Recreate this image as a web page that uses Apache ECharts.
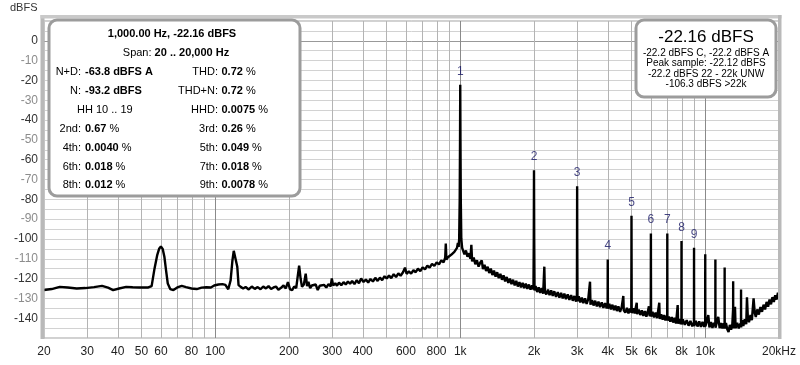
<!DOCTYPE html>
<html><head><meta charset="utf-8">
<script src="https://cdn.jsdelivr.net/npm/echarts@6/dist/echarts.min.js"></script>
<style>html,body{margin:0;padding:0;background:#fff}#c{width:800px;height:365px}</style>
</head><body><div id="c"></div>
<script>
// ---------------- DATA ----------------
const xGridHz = [30,40,50,60,70,80,90,200,300,400,500,600,700,800,900,2000,3000,4000,5000,6000,7000,8000,9000];
const xDecadeHz = [100,1000,10000];
const xLabelHz = [20,30,40,50,60,80,100,200,300,400,600,800,1000,2000,3000,4000,5000,6000,8000,10000,20000];
const xLabelText = ['20','30','40','50','60','80','100','200','300','400','600','800','1k','2k','3k','4k','5k','6k','8k','10k','20kHz'];
const yLabelValues = [0,-10,-20,-30,-40,-50,-60,-70,-80,-90,-100,-110,-120,-130,-140];

// spectrum, [Hz, dBFS]
const spectrumHum = [[20,-125.8],[21.5,-125.3],[23.2,-124.2],[25,-124.5],[27.2,-125],[29.5,-124.8],[32,-124.3],[34.5,-123.7],[36.5,-124.6],[38.3,-125.8],[40.5,-125],[43.3,-124.2],[46,-124.4],[49,-124.5],[53.3,-124.5],[55,-123.8],[56.5,-115],[58,-108],[59,-105],[60,-103.8],[61,-105],[62,-109],[63,-116],[64,-122.5],[65.5,-125.3],[67.5,-125.8],[70,-124.5],[73,-123.7],[76,-124.3],[80,-125],[84,-125.3],[88,-124.6],[92,-124.4],[96,-124.5],[99,-123.5],[103,-123],[107,-122.8],[110,-123.2],[113,-125.4],[115.5,-121],[117.5,-111],[119,-106],[120,-105.5],[121,-106.5],[123,-114],[124.5,-123.3],[127,-124.2],[130,-125],[133,-124.3],[137,-125.5],[141,-124],[145,-125.2],[149,-124.3],[153,-125.4],[157,-124],[161,-125],[165,-123.8],[169,-125.3],[173,-124.5],[177,-124],[181,-125.6],[185,-124.8],[190,-123.5],[194,-125],[198,-121.8],[202,-125.5],[206,-125.8],[210,-124],[214,-124.8],[217,-119],[220,-113.5],[223,-120],[226,-124.2],[230,-123],[234,-117.5],[237,-123.8]];
const spectrumRise = [[240,-121.6],[244,-124.8],[248,-123.5],[252,-124.5],[257,-123],[262,-125.8],[267,-123.6],[272,-124.6],[278,-123.2],[284,-124.5],[290,-122.8],[296,-123.9],[299,-119.9],[303,-123.5],[309,-122.4],[314,-123.6],[320,-122],[327,-123.4],[334,-121.8],[341,-123],[348,-121.5],[355,-122.6],[362,-121.2],[370,-122.8],[378,-120.8],[386,-122.4],[394,-120],[403,-121.7],[412,-120.5],[421,-122],[430,-120.2],[440,-121.5],[450,-119.6],[460,-121.2],[470,-119.5],[480,-120.8],[491,-118.8],[501,-120],[512,-118.5],[523,-119.8],[535,-117.8],[547,-119.2],[559,-117.4],[571,-118.6],[584,-116.8],[595,-114.5],[604,-117.6],[617,-116.4],[630,-117.5],[644,-115.8],[658,-116.8],[672,-115],[687,-116.2],[702,-114.3],[718,-115.4],[734,-113.5],[750,-114.5],[767,-112.6],[784,-113.6],[801,-111.8],[819,-112.8],[837,-110.8],[855,-111.8],[868,-109.5],[873,-102.3],[878,-110.5],[891,-109.2],[905,-110],[918,-108],[932,-108.8],[946,-106.5],[958,-107.2],[970,-104.5],[978,-102],[985,-104],[990,-100],[995,-80],[998,-50],[1000,-22.2],[1002,-50],[1005,-80],[1010,-100],[1018,-104.5]];
const spectrumDecay = [[1026,-104.5],[1040,-107.8],[1055,-105.8],[1070,-109],[1085,-107.2],[1100,-110],[1110,-103],[1118,-111.3],[1135,-109.4],[1152,-112.8],[1170,-110.8],[1188,-114],[1206,-112],[1224,-110.8],[1238,-115.2],[1256,-113],[1275,-116.2],[1294,-114],[1313,-117.2],[1333,-115],[1353,-118.2],[1373,-116],[1394,-119],[1415,-116.8],[1436,-119.8],[1458,-117.6],[1480,-120.6],[1502,-118.4],[1525,-121.4],[1548,-119.2],[1571,-122.2],[1595,-120],[1619,-122.8],[1643,-120.6],[1668,-123.4],[1693,-121.2],[1718,-124],[1744,-121.8],[1770,-124.4],[1797,-122.2],[1824,-124.8],[1851,-122.6],[1879,-125.2],[1907,-123],[1936,-125.6],[1965,-123.4],[1990,-125.4],[1996,-100],[2000,-65.3],[2004,-100],[2010,-126],
[2030,-123.8],[2060,-126.8],[2090,-124.4],[2120,-127.2],[2150,-124.8],[2180,-127.6],[2204,-114],[2215,-126.6],[2245,-128],[2280,-125.6],[2315,-128.4],[2350,-126],[2385,-128.8],[2420,-126.4],[2460,-129.2],[2500,-126.8],[2540,-129.6],[2580,-127.2],[2620,-130],[2660,-127.6],[2700,-130.4],[2745,-128],[2790,-130.8],[2835,-128.4],[2880,-131.2],[2925,-128.8],[2970,-131.6],[2993,-129.8],[2997,-100],[3000,-73.4],[3003,-100],[3010,-131.4],
[3045,-129],[3090,-132],[3135,-129.6],[3180,-132.4],[3230,-130],[3280,-132.8],[3330,-130.4],[3386,-121.6],[3400,-133.2],[3450,-130.8],[3500,-133.6],[3555,-131.2],[3610,-134],[3665,-131.6],[3720,-134.4],[3780,-132],[3840,-134.8],[3900,-132.4],[3960,-135],[3995,-133],[3998,-120],[4000,-110.4],[4002,-120],[4006,-135.2]];
const spectrumHigh = [[4060,-132.8],[4120,-135.6],[4180,-133.2],[4240,-136],[4300,-133.6],[4360,-136.4],[4420,-134],[4490,-136.8],[4560,-134.4],[4630,-128.8],[4650,-136],[4720,-137.2],[4790,-134.8],[4860,-137.6],[4930,-135.2],[4990,-137],[4997,-110],[5000,-88.3],[5003,-110],[5010,-137.4],
[5080,-135],[5150,-137.6],[5252,-132.2],[5270,-138],[5350,-135.6],[5430,-138.4],[5510,-136],[5590,-138.8],[5670,-136.4],[5750,-139.2],[5830,-136.6],[5890,-134],[5930,-139],[5993,-137.5],[5997,-115],[6000,-97.2],[6003,-115],[6010,-139.2],
[6090,-136.8],[6180,-139.6],[6270,-137.2],[6360,-140],[6492,-132.2],[6520,-140.4],[6610,-138],[6700,-140.8],[6790,-138.4],[6880,-141.2],[6950,-138.8],[6995,-140.5],[6998,-115],[7000,-97.2],[7002,-115],[7008,-141.2],
[7100,-139.2],[7200,-141.8],[7300,-139.4],[7400,-142.2],[7500,-139.8],[7600,-142.6],[7718,-133.4],[7750,-142.8],[7850,-140.4],[7950,-143],[7995,-141],[7998,-120],[8000,-101],[8002,-120],[8008,-143.2],
[8100,-140.6],[8250,-143.4],[8400,-141],[8550,-143.8],[8700,-141.4],[8850,-144.1],[8995,-142],[8998,-120],[9000,-104.5],[9002,-120],[9008,-144],
[9150,-141.4],[9300,-144.2],[9450,-141.6],[9600,-144.4],[9750,-141.8],[9900,-144.4],[9995,-142.4],[9998,-125],[10000,-107.7],[10002,-125],[10008,-144.2],
[10150,-141.8],[10290,-138.4],[10400,-144.6],[10550,-142],[10700,-144.9],[10850,-142.4],[10995,-143.5],[10998,-125],[11000,-110.4],[11002,-125],[11010,-144.8],
[11150,-142.2],[11300,-139.3],[11450,-145],[11600,-142.4],[11750,-145.2],[11900,-142.6],[11995,-144],[11998,-130],[12000,-114.4],[12002,-130],[12010,-145.2],
[12150,-142.4],[12300,-145.6],[12450,-147],[12600,-143.4],[12750,-145.8],[12900,-143],[12995,-144],[12998,-135],[13000,-121.3],[13002,-135],[13010,-145.2],
[13226,-134.2],[13300,-145],[13500,-142.4],[13700,-145.2],[13900,-142.8],[13995,-144],[13998,-135],[14000,-125.5],[14002,-135],[14010,-144.6],
[14150,-141],[14300,-144],[14500,-140.6],[14700,-143],[14800,-129.5],[14920,-139.4],[15080,-142],[15300,-138.4],[15500,-141],[15750,-130],[15920,-137.2],[16080,-139.4],[16300,-135.6],[16550,-138.2],[16800,-134.4],[17050,-136.8],[17300,-133.2],[17550,-135.6],[17800,-131.8],[18050,-134.2],[18300,-130.6],[18550,-133],[18800,-129.4],[19050,-131.8],[19300,-128.4],[19550,-130.6],[19800,-127.2],[20000,-129.4]];

const harmonicHz = [1000,2000,3000,4000,5000,6000,7000,8000,9000];
const harmonicDb = [-22.2,-65.3,-73.4,-110.4,-88.3,-97.2,-97.2,-101,-104.5];

const infoTitle = '1,000.00 Hz, -22.16 dBFS';
const infoSpan = ['Span: ', '20 .. 20,000 Hz'];
const infoLeft = [['N+D:','-63.8 dBFS A',''],['N:','-93.2 dBFS',''],['HH 10 .. 19','',''],['2nd:','0.67',' %'],['4th:','0.0040',' %'],['6th:','0.018',' %'],['8th:','0.012',' %']];
const infoRight = [['THD:','0.72',' %'],['THD+N:','0.72',' %'],['HHD:','0.0075',' %'],['3rd:','0.26',' %'],['5th:','0.049',' %'],['7th:','0.018',' %'],['9th:','0.0078',' %']];
const levelBig = '-22.16 dBFS';
const levelLines = ['-22.2 dBFS C, -22.2 dBFS A','Peak sample: -22.12 dBFS','-22.2 dBFS 22 - 22k UNW','-106.3 dBFS >22k'];

// ---------------- CHART ----------------
const FONT = 'Arial, "Liberation Sans", sans-serif';
const lg = Math.log10;
const spectrum = spectrumHum.concat(spectrumRise, spectrumDecay, spectrumHigh).map(p => [lg(p[0]), p[1]]);

function xLabelFmt(v) {
  for (let i = 0; i < xLabelHz.length; i++) if (Math.abs(lg(xLabelHz[i]) - v) < 1e-6) return xLabelText[i];
  return '';
}
function yLabelFmt(v) {
  if (yLabelValues.indexOf(v) < 0) return '';
  return ((v / 10) % 2 === 0 ? '{d|' : '{l|') + v + '}';
}

const graphic = [];
graphic.push({type:'rect', shape:{x:40.5,y:15,width:4,height:324}, style:{fill:'#b9b9b9'}, z:50});
graphic.push({type:'rect', shape:{x:40.5,y:15,width:741,height:3.5}, style:{fill:'#c9c9c9'}, z:50});
graphic.push({type:'rect', shape:{x:778,y:15,width:3.5,height:324}, style:{fill:'#b9b9b9'}, z:50});
graphic.push({type:'text', x:10, y:8, style:{text:'dBFS', fontSize:11, fontFamily:FONT, fill:'#333', verticalAlign:'middle'}, z:50});
graphic.push({type:'rect', shape:{x:49,y:20,width:251,height:176,r:8}, style:{fill:'#fff', stroke:'#9c9c9c', lineWidth:3}, z:60});
graphic.push({type:'text', x:172, y:34, style:{text:infoTitle, fontSize:11, fontWeight:'bold', fontFamily:FONT, fill:'#000', align:'center', verticalAlign:'middle'}, z:61});
graphic.push({type:'text', x:176, y:53, style:{text:infoSpan[0] + '{b|' + infoSpan[1] + '}', fontSize:11, fontFamily:FONT, fill:'#000', align:'center', verticalAlign:'middle', rich:{b:{fontWeight:'bold', fontSize:11, fontFamily:FONT, fill:'#000'}}}, z:61});
function addCol(rows, labelRight, valueLeft) {
  rows.forEach((r, i) => {
    const y = 72 + i * 18.9;
    if (r[1] === '') {
      graphic.push({type:'text', x:77, y:y, style:{text:r[0], fontSize:11, fontFamily:FONT, fill:'#000', align:'left', verticalAlign:'middle'}, z:61});
      return;
    }
    graphic.push({type:'text', x:labelRight, y:y, style:{text:r[0], fontSize:11, fontFamily:FONT, fill:'#000', align:'right', verticalAlign:'middle'}, z:61});
    graphic.push({type:'text', x:valueLeft, y:y, style:{text:'{b|' + r[1] + '}' + r[2], fontSize:11, fontFamily:FONT, fill:'#000', align:'left', verticalAlign:'middle', rich:{b:{fontWeight:'bold', fontSize:11, fontFamily:FONT, fill:'#000'}}}, z:61});
  });
}
addCol(infoLeft, 81, 85);
addCol(infoRight, 218, 221.5);
graphic.push({type:'rect', shape:{x:636,y:20,width:140,height:77,r:8}, style:{fill:'#fff', stroke:'#9c9c9c', lineWidth:3}, z:60});
graphic.push({type:'text', x:706, y:37, style:{text:levelBig, fontSize:17, fontFamily:FONT, fill:'#000', align:'center', verticalAlign:'middle'}, z:61});
levelLines.forEach((t, i) => {
  graphic.push({type:'text', x:706, y:53.5 + i * 10.2, style:{text:t, fontSize:10, fontFamily:FONT, fill:'#000', align:'center', verticalAlign:'middle'}, z:61});
});

// vertical grid lines (minor + decade) drawn through the x scale
const gridRows = xGridHz.map(f => [lg(f), 10, 0]).concat(xDecadeHz.map(f => [lg(f), 10, 1]));
const gridSeries = {
  type:'custom', silent:true, z:1,
  data: gridRows,
  encode:{x:0, y:1},
  renderItem: function (params, api) {
    const top = api.coord([api.value(0), 10]);
    const bot = api.coord([api.value(0), -150]);
    const x = Math.round(top[0]);
    return {type:'rect', shape:{x:x, y:Math.min(top[1], bot[1]), width:1, height:Math.abs(bot[1] - top[1])},
      style:{fill: api.value(2) === 1 ? '#8a8a8a' : '#b4b4b4'}};
  }
};

const chart = echarts.init(document.getElementById('c'), null, {renderer:'canvas'});
chart.setOption({
  animation: false,
  backgroundColor: '#fff',
  grid: {left:44, right:21, top:21, bottom:27, show:true, borderColor:'#a3a3a3', borderWidth:1},
  xAxis: {
    type:'value', min:lg(20), max:lg(20000),
    axisLine:{show:true, lineStyle:{color:'#999'}},
    axisTick:{show:false},
    axisLabel:{customValues: xLabelHz.map(lg), formatter:xLabelFmt, margin:8, color:'#222', fontSize:12, fontFamily:FONT, showMinLabel:true, showMaxLabel:true},
    splitLine:{show:false}
  },
  yAxis: {
    type:'value', min:-150, max:10, interval:5,
    axisLine:{show:false}, axisTick:{show:false},
    splitLine:{show:true, lineStyle:{color:'#d2d2d2', width:1}},
    axisLabel:{margin:6, formatter:yLabelFmt, fontSize:12, fontFamily:FONT,
      rich:{d:{color:'#333', fontSize:12, fontFamily:FONT}, l:{color:'#8c8c8c', fontSize:12, fontFamily:FONT}}}
  },
  series: [
    gridSeries,
  {
    type:'line', data:spectrum, showSymbol:false, symbol:'none',
    lineStyle:{color:'#000', width:2.4}, z:5
  }, {
    type:'scatter', data:harmonicHz.map((f, i) => [lg(f), harmonicDb[i]]),
    symbolSize:1, itemStyle:{color:'rgba(0,0,0,0)'}, z:6,
    label:{show:true, position:'top', distance:7, color:'#161664', fontSize:12, fontFamily:FONT,
      formatter: p => String(p.dataIndex + 1)}
  }],
  graphic: graphic
});
</script></body></html>
